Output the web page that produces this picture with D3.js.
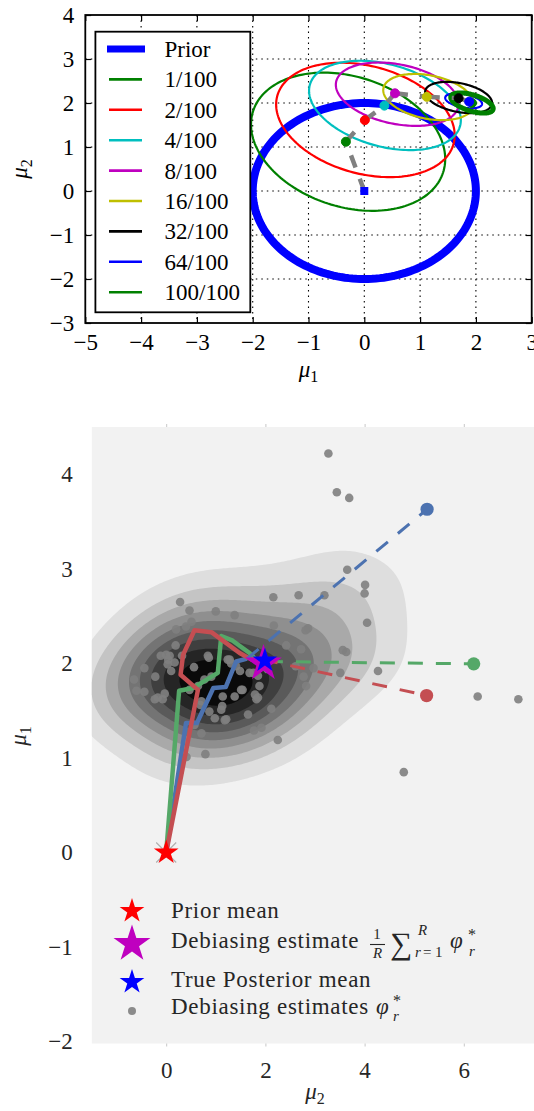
<!DOCTYPE html>
<html><head><meta charset="utf-8">
<script src="https://cdn.jsdelivr.net/npm/d3@7"></script>
<style>
body{margin:0;background:#fff}
svg{display:block}
text{font-family:"Liberation Serif","DejaVu Serif",serif}
</style>
</head><body>
<svg id="c" width="534" height="1111"></svg>
<script>
// ================= DATA: top panel =================
const topLabels = ["Prior","1/100","2/100","4/100","8/100","16/100","32/100","64/100","100/100"];
const topColors = ["#0000ff","#008000","#ff0000","#00bfbf","#bf00bf","#bfbf00","#000000","#0000ff","#008000"];
const ellCx  = [0.00,-0.29,0.02,0.37,0.59,1.15,1.69,1.78,1.93];
const ellCy  = [0.00, 1.12,1.615,1.945,2.20,2.135,2.125,2.05,2.00];
const ellSx  = [2.00, 1.74,1.60,1.36,1.10,0.81,0.60,0.33,0.38];
const ellSy  = [2.00, 1.57,1.30,1.015,0.72,0.525,0.355,0.17,0.23];
const ellRho = [0.00,-0.25,-0.27,-0.33,-0.30,-0.30,-0.35,-0.40,-0.55];
const meanX  = [0.00,-0.33,0.01,0.36,0.55,1.12,1.69,1.88,1.93];
const meanY  = [0.00, 1.12,1.61,1.94,2.22,2.14,2.11,2.03,2.00];
const topXTicks = [-5,-4,-3,-2,-1,0,1,2,3];
const topYTicks = [-3,-2,-1,0,1,2,3,4];

// ================= DATA: bottom panel =================
const dotX = [3.27,3.44,3.69,3.65,4.01,4.00,3.19,2.67,2.16,4.05,2.86,2.81,3.56,3.63,2.72,4.27,3.51,2.97,2.77,2.82,2.61,6.28,7.10,4.79,2.25,2.12,1.92,1.77,0.79,0.41,
  0.28,0.47,1.00,1.38,2.17,2.42,0.20,0.51,0.40,
  0.07,0.17,0.10,0.56,0.86,1.28,1.31,1.49,0.77,1.38,1.51,1.13,0.98,0.87,0.69,0.57,0.71,-0.65,-0.60,-0.44,-0.22,-0.17,-0.07,-0.03,0.00,0.04,-0.44,0.32,0.64,0.47,
  1.41,1.68,1.76,1.88,1.79,1.21,1.65,0.19,-0.11,1.85,1.85,1.54,0.91,1.14,1.11,1.18,0.71,1.82,-0.23,0.03,0.84,1.24];
const dotY = [4.22,3.81,3.75,2.99,2.83,2.74,2.72,2.72,2.70,2.43,2.37,2.35,2.14,2.12,2.15,1.92,1.90,1.95,1.86,1.76,1.97,1.65,1.62,0.85,1.19,1.52,1.32,1.29,1.04,1.01,
  2.65,2.56,2.55,2.51,2.40,2.19,2.36,2.44,2.39,
  2.08,2.01,1.92,1.96,2.06,2.04,2.00,1.92,1.83,1.65,1.72,1.55,1.42,1.49,1.56,1.35,1.26,1.83,1.71,1.70,1.86,1.64,1.62,1.68,2.09,2.04,1.95,2.08,1.76,1.72,
  1.97,1.90,1.90,1.76,1.67,1.41,1.46,2.19,2.08,1.87,1.64,1.72,1.86,1.65,1.51,1.40,1.60,1.62,1.62,1.99,2.08,2.04];
const chainBlueX  = [0,0.40,0.62,0.95,1.20,1.41,1.63];
const chainBlueY  = [0,1.37,1.37,1.74,1.75,2.02,2.05];
const chainGreenX = [0,0.26,0.54,1.04,1.11,1.34,1.68,2.02,2.05];
const chainGreenY = [0,1.71,1.74,1.90,2.29,2.24,2.11,1.92,2.02];
const chainRedX   = [0,0.64,0.29,0.34,0.57,0.91,1.48,1.72,1.95];
const chainRedY   = [0,1.72,1.88,2.09,2.35,2.33,2.11,2.04,2.04];
const estX = [5.26,6.20,5.25];   // blue, green, red chain estimates
const estY = [3.63,1.995,1.66];
const priorMean = [0,0];
const debiasMean = [1.96,2.00];
const truePostMean = [1.99,2.03];
const botXTicks = [0,2,4,6];
const botYTicks = [-2,-1,0,1,2,3,4];
const legendBottom = ["Prior mean","Debiasing estimate","True Posterior mean","Debiasing estimates"];

// ================= helpers =================
const svg = d3.select("#c");
const fmt = v => v < 0 ? "\u2212" + (-v) : String(v);

// ================= TOP PANEL =================
const tx = d3.scaleLinear().domain([-5,3]).range([85.3,531.7]);
const ty = d3.scaleLinear().domain([-3,4]).range([323,15]);
const topG = svg.append("g");
topG.append("clipPath").attr("id","clipT").append("rect")
  .attr("x",tx(-5)).attr("y",ty(4)).attr("width",tx(3)-tx(-5)).attr("height",ty(-3)-ty(4));

// grid
const grid = topG.append("g").attr("stroke","#000").attr("stroke-width",1.1).attr("stroke-dasharray","1.5,4");
grid.selectAll("line.vx").data(topXTicks.slice(1,-1)).join("line")
  .attr("x1",d=>tx(d)).attr("x2",d=>tx(d)).attr("y1",ty(4)).attr("y2",ty(-3));
grid.selectAll("line.hy").data(topYTicks.slice(1,-1)).join("line")
  .attr("y1",d=>ty(d)).attr("y2",d=>ty(d)).attr("x1",tx(-5)).attr("x2",tx(3));

// ellipses
const ellG = topG.append("g").attr("clip-path","url(#clipT)");
const ts = d3.range(0, 2*Math.PI, Math.PI/90);
function ellPts(i){
  const r = ellRho[i], q = Math.sqrt(1 - r*r);
  return ts.map(t => [tx(ellCx[i] + ellSx[i]*Math.cos(t)),
                      ty(ellCy[i] + ellSy[i]*(r*Math.cos(t) + q*Math.sin(t)))]);
}
const closed = d3.line().curve(d3.curveLinearClosed);
topLabels.forEach((lab,i) => {
  ellG.append("path").attr("d", closed(ellPts(i))).attr("fill","none")
    .attr("stroke", topColors[i])
    .attr("stroke-width", i===0 ? 8 : (i===8 ? 5 : 2.2));
});
// grey dashed segments between means
const segs = d3.range(meanX.length-2).map(i => [[meanX[i],meanY[i]],[meanX[i+1],meanY[i+1]]]);
ellG.selectAll("line.seg").data(segs).join("line")
  .attr("x1",d=>tx(d[0][0])).attr("y1",d=>ty(d[0][1]))
  .attr("x2",d=>tx(d[1][0])).attr("y2",d=>ty(d[1][1]))
  .attr("stroke","#808080").attr("stroke-width",4.5).attr("stroke-dasharray","13,12");
// mean markers (reverse so earlier ones are on top)
d3.range(meanX.length-1, 0, -1).forEach(i => {
  ellG.append("circle").attr("cx",tx(meanX[i])).attr("cy",ty(meanY[i])).attr("r",4.5)
    .attr("fill",topColors[i]).attr("stroke",topColors[i]).attr("stroke-width",1);
});
ellG.append("rect").attr("x",tx(meanX[0])-4).attr("y",ty(meanY[0])-4).attr("width",8).attr("height",8)
  .attr("fill",topColors[0]);

// axes
const tFont = g => g.selectAll("text").attr("font-size",23).attr("fill","#000")
  .style("font-family",'"Liberation Serif","DejaVu Serif",serif');
const axB = topG.append("g").attr("transform",`translate(0,${ty(-3)})`)
  .call(d3.axisBottom(tx).tickValues(topXTicks).tickSize(-6).tickPadding(11).tickFormat(fmt));
const axT = topG.append("g").attr("transform",`translate(0,${ty(4)})`)
  .call(d3.axisTop(tx).tickValues(topXTicks).tickSize(-6).tickFormat(""));
const axL = topG.append("g").attr("transform",`translate(${tx(-5)},0)`)
  .call(d3.axisLeft(ty).tickValues(topYTicks).tickSize(-6).tickPadding(11).tickFormat(fmt));
const axR = topG.append("g").attr("transform",`translate(${tx(3)},0)`)
  .call(d3.axisRight(ty).tickValues(topYTicks).tickSize(-6).tickFormat(""));
[axB,axT,axL,axR].forEach(a => { a.select(".domain").remove(); a.selectAll("line").attr("stroke","#000").attr("stroke-width",1.2); tFont(a); });
topG.append("rect").attr("x",tx(-5)).attr("y",ty(4)).attr("width",tx(3)-tx(-5)).attr("height",ty(-3)-ty(4))
  .attr("fill","none").attr("stroke","#000").attr("stroke-width",1.8);

// legend
const lg = topG.append("g");
lg.append("rect").attr("x",95.4).attr("y",31.7).attr("width",154.9).attr("height",280.6)
  .attr("fill","#fff").attr("stroke","#000").attr("stroke-width",1.8);
topLabels.forEach((lab,i) => {
  const yy = 49 + i*30.4;
  lg.append("line").attr("x1", i===0 ? 107 : 109).attr("x2", i===0 ? 145 : 142)
    .attr("y1",yy).attr("y2",yy).attr("stroke",topColors[i]).attr("stroke-width", i===0 ? 7 : 2.6);
  lg.append("text").attr("x",164.5).attr("y",yy+8).attr("font-size",23).attr("fill","#000").text(lab);
});
// axis labels
const mu = (g, sub, x, y, rot, col) => {
  const t = g.append("text").attr("font-size",23).attr("fill",col)
    .attr("text-anchor","middle").attr("transform",`translate(${x},${y})` + (rot ? " rotate(-90)" : ""));
  t.append("tspan").attr("font-style","italic").text("\u03bc");
  t.append("tspan").attr("font-size",16).attr("dy",5).text(sub);
  return t;
};
mu(topG,"1",308.5,377,false,"#000");
mu(topG,"2",27,169,true,"#000");

// ================= BOTTOM PANEL =================
const bx = d3.scaleLinear().domain([-1.5,7.5]).range([91.8,538.2]);
const by = d3.scaleLinear().domain([-2.02,4.5]).range([1043.5,427]);
const bot = svg.append("g");
bot.append("clipPath").attr("id","clipB").append("rect")
  .attr("x",bx(-1.5)).attr("y",by(4.5)).attr("width",bx(7.5)-bx(-1.5)).attr("height",by(-2.02)-by(4.5));
bot.append("rect").attr("x",bx(-1.5)).attr("y",by(4.5)).attr("width",bx(7.5)-bx(-1.5)).attr("height",by(-2.02)-by(4.5))
  .attr("fill","#f2f2f2");

// KDE (Gaussian kernel, full covariance, scaled data covariance)
const n = dotX.length;
const mX = d3.mean(dotX), mY = d3.mean(dotY);
let sxx=0, syy=0, sxy=0;
for (let k=0;k<n;k++){ const a=dotX[k]-mX, b=dotY[k]-mY; sxx+=a*a; syy+=b*b; sxy+=a*b; }
sxx/=(n-1); syy/=(n-1); sxy/=(n-1);
const bwFactor = 0.64;
const ka = sxx*bwFactor*bwFactor, kd = syy*bwFactor*bwFactor, kb = sxy*bwFactor*bwFactor;
const det = ka*kd - kb*kb;
const step = 2;
const gx0 = bx(-1.5), gy0 = by(4.5);
const nx = Math.ceil((bx(7.5)-gx0)/step)+1, ny = Math.ceil((by(-2.02)-gy0)/step)+1;
const vals = new Float64Array(nx*ny);
for (let j=0;j<ny;j++){
  const yv = by.invert(gy0 + j*step);
  for (let i=0;i<nx;i++){
    const xv = bx.invert(gx0 + i*step);
    let s = 0;
    for (let k=0;k<n;k++){
      const dx = xv-dotX[k], dy = yv-dotY[k];
      s += Math.exp(-0.5*(kd*dx*dx - 2*kb*dx*dy + ka*dy*dy)/det);
    }
    vals[j*nx+i] = s;
  }
}
const vmax = d3.max(vals);
const thresholds = d3.range(1,10).map(k => vmax*k/10);
const bandColor = d3.scaleLinear().domain([0,thresholds.length-1]).range(["#dedede","#0a0a0a"]);
const contours = d3.contours().size([nx,ny]).thresholds(thresholds)(Array.from(vals));
const cpath = d3.geoPath(d3.geoIdentity().scale(step).translate([gx0-step/2, gy0-step/2]));
const cg = bot.append("g").attr("clip-path","url(#clipB)");
cg.selectAll("path.c").data(contours).join("path")
  .attr("d",cpath).attr("fill",(d,i)=>bandColor(i)).attr("stroke","none");

// grey dots
cg.selectAll("circle.dot").data(dotX.map((x,i)=>[x,dotY[i]])).join("circle")
  .attr("cx",d=>bx(d[0])).attr("cy",d=>by(d[1])).attr("r",4.3)
  .attr("fill","#7f7f7f").attr("fill-opacity",0.9);

// prior 'x' behind star
cg.append("path").attr("d",`M${bx(0)-10},${by(0)-10}L${bx(0)+10},${by(0)+10}M${bx(0)-10},${by(0)+10}L${bx(0)+10},${by(0)-10}`)
  .attr("stroke","#b0b0b0").attr("stroke-width",1.2);

// chains
const seaBlue="#4c72b0", seaGreen="#55a868", seaRed="#c44e52";
const chains = [[chainBlueX,chainBlueY,seaBlue],[chainGreenX,chainGreenY,seaGreen],[chainRedX,chainRedY,seaRed]];
const lineB = d3.line().x(d=>bx(d[0])).y(d=>by(d[1]));
chains.forEach((c,ci) => {
  const pts = c[0].map((x,i)=>[x,c[1][i]]);
  cg.append("path").attr("d",lineB(pts)).attr("fill","none").attr("stroke",c[2])
    .attr("stroke-width",4.5).attr("stroke-linejoin","round");
});
chains.forEach((c,ci) => {
  const last = c[0].length-1;
  cg.append("line").attr("x1",bx(c[0][last])).attr("y1",by(c[1][last]))
    .attr("x2",bx(estX[ci])).attr("y2",by(estY[ci]))
    .attr("stroke",c[2]).attr("stroke-width",3).attr("stroke-dasharray","15,13");
  cg.append("circle").attr("cx",bx(estX[ci])).attr("cy",by(estY[ci])).attr("r",6.6).attr("fill",c[2]);
});

// stars
const starSize = R => R*R/0.8908130915292852;
const star = d3.symbol().type(d3.symbolStar);
cg.append("path").attr("d",star.size(starSize(13))()).attr("transform",`translate(${bx(priorMean[0])},${by(priorMean[1])})`)
  .attr("fill","#ff0000");
cg.append("path").attr("d",star.size(starSize(19.4))()).attr("transform",`translate(${bx(debiasMean[0])},${by(debiasMean[1])})`)
  .attr("fill","#bf00bf");
cg.append("path").attr("d",star.size(starSize(13))()).attr("transform",`translate(${bx(truePostMean[0])},${by(truePostMean[1])})`)
  .attr("fill","#0000ff");

// axes bottom
const bFont = g => g.selectAll("text").attr("font-size",23).attr("fill","#262626")
  .style("font-family",'"Liberation Serif","DejaVu Serif",serif');
const bAxB = bot.append("g").attr("transform",`translate(0,${by(-2.02)})`)
  .call(d3.axisBottom(bx).tickValues(botXTicks).tickSize(3).tickPadding(15).tickFormat(fmt));
const bAxT = bot.append("g").attr("transform",`translate(0,${by(4.5)})`)
  .call(d3.axisTop(bx).tickValues(botXTicks).tickSize(3).tickFormat(""));
const bAxL = bot.append("g").attr("transform",`translate(${bx(-1.5)},0)`)
  .call(d3.axisLeft(by).tickValues(botYTicks).tickSize(0).tickPadding(19).tickFormat(fmt));
[bAxB,bAxT,bAxL].forEach(a => { a.select(".domain").remove(); a.selectAll("line").attr("stroke","#c8c8c8").attr("stroke-width",1); bFont(a); });
mu(bot,"2",315,1099,false,"#262626");
mu(bot,"1",26,736,true,"#262626");

// bottom legend
const lb = bot.append("g");
const lx = 132;
lb.append("path").attr("d",star.size(starSize(13))()).attr("transform",`translate(${lx},911)`).attr("fill","#ff0000");
lb.append("path").attr("d",star.size(starSize(19.4))()).attr("transform",`translate(${lx},944)`).attr("fill","#bf00bf");
lb.append("path").attr("d",star.size(starSize(13))()).attr("transform",`translate(${lx},982)`).attr("fill","#0000ff");
lb.append("circle").attr("cx",lx).attr("cy",1011).attr("r",4).attr("fill","#7f7f7f").attr("fill-opacity",0.9);
const ltxt = (x,y,s,opt={}) => {
  const t = lb.append("text").attr("x",x).attr("y",y).attr("font-size",opt.size||23).attr("fill","#262626").text(s);
  if (opt.italic) t.attr("font-style","italic");
  if (opt.anchor) t.attr("text-anchor",opt.anchor);
  if (opt.ls) t.attr("letter-spacing",opt.ls);
  return t;
};
ltxt(171,918,legendBottom[0],{ls:0.7});
ltxt(171,948,legendBottom[1],{ls:0.7});
ltxt(377,939,"1",{size:15,anchor:"middle"});
lb.append("line").attr("x1",370).attr("x2",385).attr("y1",944.5).attr("y2",944.5).attr("stroke","#262626").attr("stroke-width",1.1);
ltxt(377.5,958,"R",{size:15,anchor:"middle",italic:true});
ltxt(390,954,"\u2211",{size:31});
ltxt(418,935,"R",{size:15,italic:true});
ltxt(415,957,"r",{size:15,italic:true});
ltxt(423,957,"=",{size:15});
ltxt(435,957,"1",{size:15});
ltxt(450,948,"\u03c6",{italic:true});
ltxt(468,940,"*",{size:16});
ltxt(469,956,"r",{size:15,italic:true});
ltxt(171,987,legendBottom[2],{ls:0.7});
ltxt(171,1014,legendBottom[3],{ls:0.7});
ltxt(376,1014,"\u03c6",{italic:true});
ltxt(393,1006,"*",{size:16});
ltxt(393,1021,"r",{size:15,italic:true});
</script>
</body></html>
